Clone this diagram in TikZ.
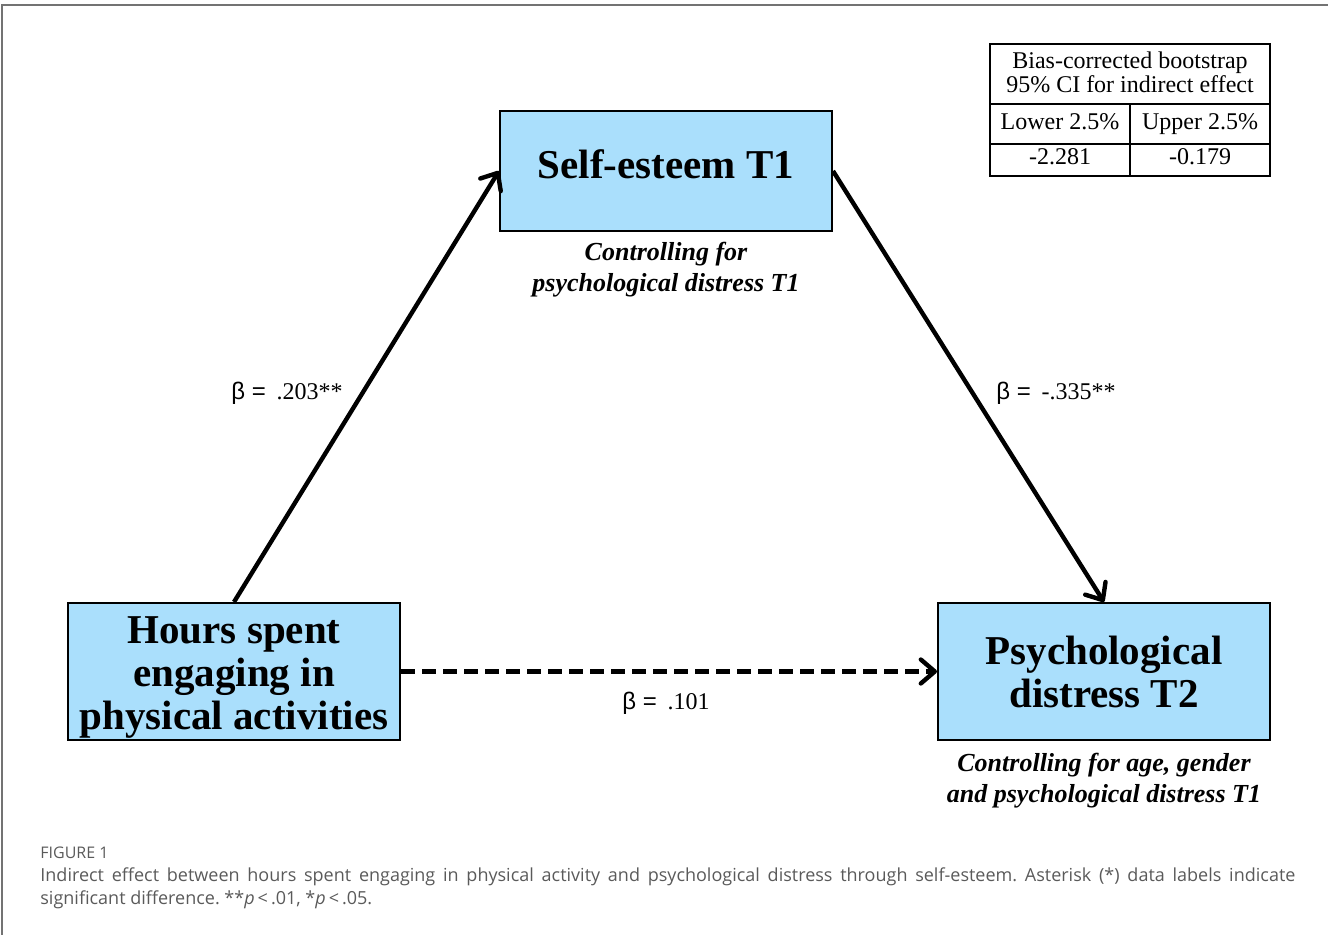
\documentclass[tikz,border=0pt]{standalone}
\usepackage{fontspec}
\setmainfont{Liberation Serif}
\newfontfamily\betafont{Liberation Sans}
\newfontfamily\capfont{Open Sans}
\usetikzlibrary{arrows.meta,positioning}
\definecolor{boxblue}{HTML}{AADFFC}
\definecolor{capgray}{HTML}{5A5A5A}
\newcommand{\betaeq}{{\betafont β =}\hspace{0.45em}}
\frenchspacing
\begin{document}
\begin{tikzpicture}[x=0.5pt,y=-0.5pt,
    >={Straight Barb[length=7pt,width=12pt,round]},
    var/.style={draw=black,line width=1pt,fill=boxblue,minimum width=166pt,minimum height=68.5pt,
      align=center,inner sep=0pt,font=\bfseries\fontsize{20.5}{21.5}\selectfont},
    ctrl/.style={font=\bfseries\itshape\fontsize{13}{15.5}\selectfont,align=center,inner sep=0pt},
    blab/.style={font=\fontsize{12}{14}\selectfont,inner sep=0pt},
    link/.style={->,line width=2.2pt},
    cell/.style={font=\fontsize{12}{12}\selectfont,inner sep=0pt,anchor=base}]
\useasboundingbox (0,0) rectangle (1328,935);
% ===== page frame =====
\draw[black!55,line width=0.75pt] (2,935) -- (2,5) -- (1328,5);
% ===== variables =====
\node[var,minimum height=60pt,text depth=7pt] (se) at (666,171) {Self-esteem T1};
\node[var] (hrs) at (234,671.5) {\rule{0pt}{19pt}Hours spent\\engaging in\\physical activities};
\node[var] (pd) at (1104,671.5) {Psychological\\distress T2};
\node[ctrl,below=5pt of se] (sectl) {Controlling for\\psychological distress T1};
\node[ctrl,below=6pt of pd] (pdctl) {Controlling for age, gender\\and psychological distress T1};
% ===== paths =====
\draw[link] (hrs.north) -- (se.west);
\draw[link] (se.east) -- (pd.north);
\draw[link,dash pattern=on 7pt off 3.5pt] (hrs.east) -- (pd.west);
\node[blab] (bhs) at (287,393) {\betaeq.203**};
\node[blab] (bsp) at (1056,393) {\betaeq-.335**};
\node[blab] (bhp) at (666,703) {\betaeq.101};
% ===== CI table =====
\draw[line width=1pt] (990,44) rectangle (1270,176);
\draw[line width=1pt] (990,104) -- (1270,104) (990,144) -- (1270,144) (1130,104) -- (1130,176);
\node[cell,align=center,anchor=north] (cihead) at (1130,51) {Bias-corrected bootstrap\\95\% CI for indirect effect};
\node[cell] (lo) at (1060,130) {Lower 2.5\%};
\node[cell] (up) at (1200,130) {Upper 2.5\%};
\node[cell] (lov) at (1060,165) {-2.281};
\node[cell] (upv) at (1200,165) {-0.179};
% ===== caption =====
\node[anchor=base west,inner sep=0pt,text=capgray,font=\capfont\fontsize{8}{9}\selectfont] (fig) at (40,858) {FIGURE 1};
\node[anchor=north west,inner sep=0pt,text=capgray,align=left,font=\capfont\fontsize{9}{11.5}\selectfont] (cap) at (40,867)
  {\makebox[627.5pt][s]{Indirect effect between hours spent engaging in physical activity and psychological distress through self-esteem. Asterisk (*) data labels indicate}\\
   significant difference. **\textit{p}\,<\,.01, *\textit{p}\,<\,.05.};
\end{tikzpicture}
\end{document}
